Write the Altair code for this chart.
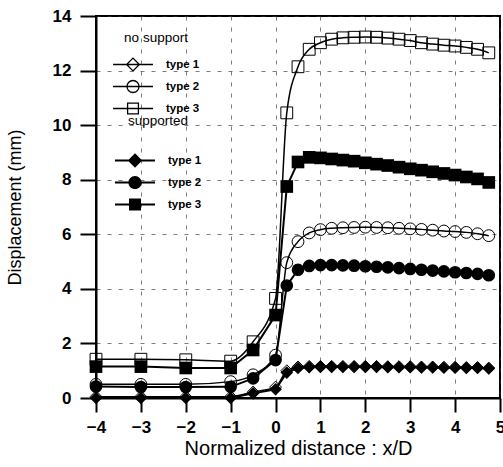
import altair as alt
import pandas as pd

# ---- data ----
x_vals = [-4, -3, -2, -1, -0.5, 0, 0.25, 0.5, 0.75, 1.0, 1.25, 1.5, 1.75, 2.0,
          2.25, 2.5, 2.75, 3.0, 3.25, 3.5, 3.75, 4.0, 4.25, 4.5, 4.75]

type_names = ["type 1", "type 2", "type 3"]

# no support (open markers)
nos_type1 = [0.05, 0.05, 0.05, 0.05, 0.22, 0.40, 1.00, 1.14, 1.16, 1.16, 1.16, 1.16, 1.16,
             1.16, 1.16, 1.15, 1.15, 1.15, 1.14, 1.14, 1.13, 1.13, 1.12, 1.12, 1.10]
nos_type2 = [0.50, 0.50, 0.50, 0.60, 0.85, 1.57, 4.96, 5.73, 6.05, 6.17, 6.22, 6.24, 6.25,
             6.26, 6.25, 6.24, 6.22, 6.20, 6.18, 6.15, 6.12, 6.10, 6.07, 6.02, 5.95]
nos_type3 = [1.42, 1.42, 1.40, 1.35, 2.06, 3.65, 10.45, 12.14, 12.78, 13.02, 13.15, 13.20, 13.22,
             13.23, 13.22, 13.19, 13.15, 13.10, 13.02, 12.97, 12.93, 12.90, 12.85, 12.78, 12.65]

# supported (filled markers)
sup_type1 = [0.00, 0.00, 0.00, 0.00, 0.17, 0.32, 0.93, 1.10, 1.13, 1.14, 1.14, 1.14, 1.14,
             1.14, 1.14, 1.13, 1.13, 1.13, 1.12, 1.12, 1.11, 1.11, 1.10, 1.10, 1.08]
sup_type2 = [0.42, 0.40, 0.40, 0.41, 0.72, 1.39, 4.12, 4.70, 4.84, 4.87, 4.87, 4.86, 4.85,
             4.83, 4.81, 4.79, 4.76, 4.73, 4.70, 4.67, 4.64, 4.61, 4.58, 4.55, 4.50]
sup_type3 = [1.15, 1.15, 1.10, 1.10, 1.76, 3.04, 7.75, 8.65, 8.82, 8.80, 8.76, 8.72, 8.68,
             8.62, 8.57, 8.52, 8.46, 8.40, 8.35, 8.29, 8.23, 8.17, 8.10, 8.03, 7.90]

x_ticks = [-4, -3, -2, -1, 0, 1, 2, 3, 4, 5]
y_ticks = [0, 2, 4, 6, 8, 10, 12, 14]


def long_table(series):
    rows = []
    for name, vals in zip(type_names, series):
        for xv, yv in zip(x_vals, vals):
            rows.append({"x": xv, "disp": yv, "type": name})
    return pd.DataFrame(rows)


df_nos = long_table([nos_type1, nos_type2, nos_type3])
df_sup = long_table([sup_type1, sup_type2, sup_type3])

FONT = "Liberation Sans"

x_enc = alt.X("x:Q", scale=alt.Scale(domain=[-4, 5], nice=False, zero=False),
              axis=alt.Axis(values=x_ticks, title="Normalized distance : x/D",
                            labelFlush=False, labelOverlap=False, format="d",
                            tickSize=14, tickWidth=2, labelPadding=7,
                            labelFontSize=17, labelFontWeight="bold",
                            titleFontSize=20, titleFontWeight="normal", titlePadding=3))
y_enc = alt.Y("disp:Q", scale=alt.Scale(domain=[0, 14], nice=False),
              axis=alt.Axis(values=y_ticks, title="Displacement (mm)",
                            labelFlush=False, labelOverlap=False, format="d",
                            tickSize=16, tickWidth=2, labelPadding=9,
                            labelFontSize=17, labelFontWeight="bold",
                            titleFontSize=18, titleFontWeight="normal", titlePadding=28))

marker_scale = alt.Scale(domain=type_names, range=["diamond", "circle", "square"])

line_nos = alt.Chart(df_nos).mark_line(interpolate="monotone", color="black", strokeWidth=1.5).encode(
    x=x_enc, y=y_enc, detail="type:N")
pts_nos = alt.Chart(df_nos).mark_point(filled=False, color="black", strokeWidth=1, opacity=1, size=140).encode(
    x=x_enc, y=y_enc, shape=alt.Shape("type:N", scale=marker_scale, legend=None))

line_sup = alt.Chart(df_sup).mark_line(color="black", strokeWidth=2).encode(
    x=x_enc, y=y_enc, detail="type:N")
pts_sup = alt.Chart(df_sup).mark_point(filled=True, color="black", opacity=1, size=160).encode(
    x=x_enc, y=y_enc, shape=alt.Shape("type:N", scale=marker_scale, legend=None))

# legend symbols: a line segment through the marker
legend_paths_open = [
    "M-1,0H1M0,-0.32L0.32,0L0,0.32L-0.32,0Z",
    "M-1,0H1M0.3,0A0.3,0.3,0,1,1,-0.3,0A0.3,0.3,0,1,1,0.3,0Z",
    "M-1,0H1M-0.27,-0.27H0.27V0.27H-0.27Z",
]
# filled variants: the line is a thin filled bar so it shows with fill only
legend_paths_filled = [
    "M-1,-0.05H1V0.05H-1ZM0,-0.36L0.36,0L0,0.36L-0.36,0Z",
    "M-1,-0.05H1V0.05H-1ZM0.33,0A0.33,0.33,0,1,1,-0.33,0A0.33,0.33,0,1,1,0.33,0Z",
    "M-1,-0.05H1V0.05H-1ZM-0.3,-0.3H0.3V0.3H-0.3Z",
]

leg_common = dict(orient="none", symbolSize=1600, clipHeight=18, rowPadding=4,
                  labelOffset=12, padding=0, titleAnchor="middle",
                  titleFont=FONT, titleFontSize=13.5, titleFontWeight="normal", titleColor="black",
                  labelFont=FONT, labelFontSize=11.5, labelFontWeight="bold", labelColor="black",
                  symbolStrokeColor="black")

leg_nos = alt.Chart(df_nos).mark_point(filled=False, color="black", strokeWidth=1.3, opacity=0).encode(
    x=x_enc, y=y_enc,
    shape=alt.Shape("type:N", scale=alt.Scale(domain=type_names, range=legend_paths_open),
                    legend=alt.Legend(title="no support", legendX=16, legendY=15, titlePadding=11,
                                      symbolStrokeWidth=1.3, **leg_common)))
leg_sup = alt.Chart(df_sup).mark_point(filled=True, color="black", opacity=0).encode(
    x=x_enc, y=y_enc,
    shape=alt.Shape("type:N", scale=alt.Scale(domain=type_names, range=legend_paths_filled),
                    legend=alt.Legend(title="supported", legendX=18, legendY=98, titlePadding=24,
                                      symbolFillColor="black", **leg_common)))

chart = alt.layer(line_nos, line_sup, pts_nos, pts_sup, leg_nos, leg_sup).resolve_scale(
    shape="independent").resolve_legend(shape="independent").properties(
    width=404, height=382, autosize="none",
    padding={"left": 96, "top": 16, "right": 3, "bottom": 69},
).configure_view(stroke="black", strokeWidth=2).configure_axis(
    labelFont=FONT, titleFont=FONT, labelColor="black", titleColor="black",
    domainColor="black", domainWidth=2, tickColor="black",
    grid=True, gridColor="#333", gridDash=[4, 7], gridWidth=0.8, gridOpacity=0.8,
)

chart.save("out.html", embed_options={"renderer": "svg", "actions": False})
